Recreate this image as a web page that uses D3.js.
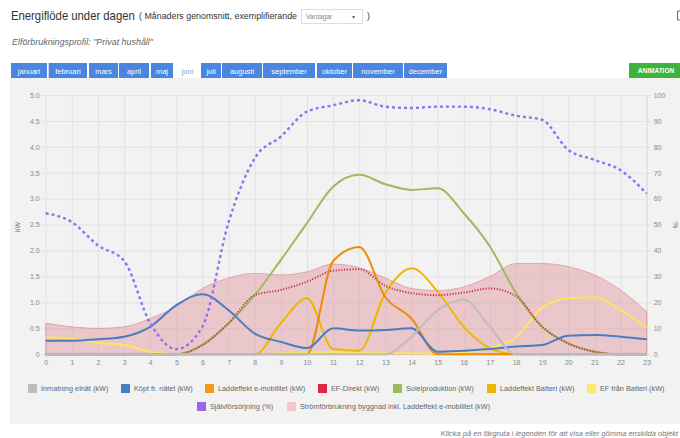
<!DOCTYPE html>
<html>
<head>
<meta charset="utf-8">
<script src="https://cdn.jsdelivr.net/npm/d3@7"></script>
<style>
  html, body { margin: 0; padding: 0; background: #fff; overflow: hidden; }
  svg text { font-family: "Liberation Sans", Arial, sans-serif; }
</style>
</head>
<body>
<svg id="chart" width="680" height="438"></svg>
<script>
// hours of the day
const hours = [0,1,2,3,4,5,6,7,8,9,10,11,12,13,14,15,16,17,18,19,20,21,22,23];
const months = ["januari","februari","mars","april","maj","juni","juli","augusti","september","oktober","november","december"];

// series (kW)
const inmatning  = [0,0,0,0,0,0,0,0,0,0,0,0,0,0,0.34,0.85,1.05,0.53,0,0,0,0,0,0];
const kopt       = [0.26,0.26,0.29,0.34,0.53,0.95,1.16,0.85,0.40,0.24,0.12,0.50,0.46,0.47,0.50,0.05,0.07,0.10,0.15,0.18,0.36,0.37,0.34,0.29];
const emobil     = [0,0,0,0,0,0,0,0,0,0,0,1.8,2.07,1.1,0.69,0,0,0,0,0,0,0,0,0];
const efDirekt   = [0,0,0,0,0,0,0.18,0.6,1.14,1.24,1.40,1.61,1.64,1.32,1.18,1.14,1.19,1.27,1.12,0.53,0.21,0.05,0,0];
const sol        = [0,0,0,0,0,0,0.18,0.6,1.14,1.82,2.53,3.23,3.46,3.28,3.17,3.2,2.72,2.08,1.18,0.53,0.21,0.05,0,0];
const battLadd   = [0,0,0,0,0,0,0,0,0,0.6,1.08,0.1,0.07,1.18,1.66,1.21,0.53,0.12,0,0,0,0,0,0];
const battEF     = [0.33,0.3,0.22,0.18,0.05,0,0,0,0,0.02,0.03,0.04,0.03,0.02,0.02,0.01,0.03,0.12,0.33,0.9,1.08,1.1,0.85,0.52];
const forbrukning= [0.6,0.53,0.5,0.53,0.69,0.92,1.27,1.47,1.56,1.53,1.59,1.74,1.67,1.47,1.27,1.23,1.30,1.50,1.75,1.75,1.69,1.53,1.24,0.82];
// self sufficiency (%)
const sjalv      = [54.4,51,42,36,12,2,10.7,51,75.6,84,93.6,96,98,95.5,95,95.5,95.5,94.5,92,90.4,78.8,75,71,62];

const kwTicks = [0,0.5,1,1.5,2,2.5,3,3.5,4,4.5,5];
const pctTicks = [0,10,20,30,40,50,60,70,80,90,100];

const svg = d3.select("#chart");

// header
svg.append("text").attr("transform", "translate(11,20) scale(0.87,1)").attr("font-size", 13).attr("fill", "#333")
  .text("Energiflöde under dagen");
svg.append("text").attr("x", 139).attr("y", 19).attr("font-size", 8.3).attr("fill", "#333")
  .attr("textLength", 158).attr("lengthAdjust", "spacingAndGlyphs")
  .text("( Månaders genomsnitt, exemplifierande");
svg.append("rect").attr("x", 301.5).attr("y", 9.5).attr("width", 61).attr("height", 14)
  .attr("fill", "#fff").attr("stroke", "#ddd");
svg.append("text").attr("x", 306).attr("y", 19).attr("font-size", 6.5).attr("fill", "#888").text("Vardagar");
svg.append("text").attr("x", 352).attr("y", 19).attr("font-size", 6).attr("fill", "#666").text("▾");
svg.append("text").attr("x", 367).attr("y", 19).attr("font-size", 8.5).attr("fill", "#333").text(")");
svg.append("path").attr("d", "M680,11 L677.5,11 L677.5,20 L680,20").attr("fill", "none").attr("stroke", "#666");

svg.append("text").attr("x", 12).attr("y", 45).attr("font-size", 8.5).attr("font-style", "italic")
  .attr("fill", "#666").attr("textLength", 141).attr("lengthAdjust", "spacingAndGlyphs")
  .text("Elförbrukningsprofil: \"Privat hushåll\"");

// month tabs
const tabEdges = [[11,47],[48.7,87],[89,118],[119,149],[151,173],[175,200],[201,221],[222,262],[263,315],[317,352],[353,403],[404,447]];
const tabs = svg.append("g");
months.forEach((m, i) => {
  const [a, b] = tabEdges[i];
  const active = m === "juni";
  tabs.append("rect").attr("x", a).attr("y", 63).attr("width", b - a).attr("height", 15)
    .attr("fill", active ? "#fff" : "#4a86e0");
  tabs.append("text").attr("x", (a + b) / 2).attr("y", 73.5).attr("text-anchor", "middle")
    .attr("font-size", 7.5).attr("fill", active ? "#7aa6ea" : "#fff").text(m);
});
svg.append("rect").attr("x", 629).attr("y", 63).attr("width", 51).attr("height", 15).attr("fill", "#3cb43c");
svg.append("text").attr("x", 656).attr("y", 73).attr("text-anchor", "middle").attr("font-size", 6.5)
  .attr("font-weight", "bold").attr("fill", "#fff").text("ANIMATION");

// chart panel
svg.append("rect").attr("x", 10).attr("y", 78).attr("width", 670).attr("height", 346).attr("fill", "#f2f2f2");

const x = d3.scaleLinear().domain([0, 23]).range([45.7, 646.7]);
const y = d3.scaleLinear().domain([0, 5]).range([354.3, 95]);
const yPct = d3.scaleLinear().domain([0, 100]).range([354.3, 95]);

// grid + axes
const gx = svg.append("g").attr("transform", "translate(0,354.3)")
  .call(d3.axisBottom(x).tickValues(hours).tickSize(-259.3).tickPadding(6).tickFormat(d3.format("d")));
gx.selectAll(".tick line").attr("stroke", "#e2e2e2").attr("y2", 4).attr("y1", -259.3);
const gy = svg.append("g").attr("transform", "translate(45.7,0)")
  .call(d3.axisLeft(y).tickValues(kwTicks).tickSize(-601).tickPadding(6)
    .tickFormat(d => d === 0 ? "0" : d3.format(".1f")(d)));
gy.selectAll(".tick line").attr("stroke", "#e2e2e2").attr("x1", -4);
const gp = svg.append("g").attr("transform", "translate(646.7,0)")
  .call(d3.axisRight(yPct).tickValues(pctTicks).tickSize(4).tickPadding(3));
gp.selectAll(".tick line").attr("stroke", "#e2e2e2");
[gx, gy, gp].forEach(g => {
  g.select(".domain").attr("stroke", "#dcdcdc");
  g.selectAll(".tick text").attr("fill", "#888").attr("font-size", 7)
    .attr("font-family", "Liberation Sans, Arial, sans-serif");
});
gx.select(".domain").remove();
gy.select(".domain").remove();

svg.append("text").attr("transform", "translate(20,227) rotate(-90)").attr("text-anchor", "middle")
  .attr("font-size", 7).attr("fill", "#777").text("kW");
svg.append("text").attr("transform", "translate(673,225) rotate(90)").attr("text-anchor", "middle")
  .attr("font-size", 7).attr("fill", "#777").text("%");

// consumption area (bottom layer)
const area = d3.area().x((d, i) => x(hours[i])).y0(y(0)).y1(d => y(d)).curve(d3.curveMonotoneX);
svg.append("path").datum(forbrukning).attr("d", area)
  .attr("fill", "rgba(225,140,150,0.42)").attr("stroke", "rgba(215,130,140,0.6)").attr("stroke-width", 1);

const line = d3.line().x((d, i) => x(hours[i])).y(d => y(d)).curve(d3.curveMonotoneX);
const pctLine = d3.line().x((d, i) => x(hours[i])).y(d => yPct(d)).curve(d3.curveMonotoneX);

// drawn back to front: last legend entry lowest
const series = [
  { data: battEF, color: "#ffe45c", w: 2 },
  { data: battLadd, color: "#ecb800", w: 2 },
  { data: sol, color: "#9dbb5c", w: 2 },
  { data: efDirekt, color: "#cc3344", w: 2, dash: "1.2,1.6" },
  { data: emobil, color: "#ee8c0a", w: 2 },
  { data: kopt, color: "#4a7cc0", w: 2 },
  { data: inmatning, color: "#bdbdbd", w: 2 }
];
series.forEach(s => {
  svg.append("path").datum(s.data).attr("d", line).attr("fill", "none")
    .attr("stroke", s.color).attr("stroke-width", s.w)
    .attr("stroke-dasharray", s.dash || null);
});

svg.append("path").datum(sjalv).attr("d", pctLine).attr("fill", "none")
  .attr("stroke", "#9370ee").attr("stroke-width", 2.4).attr("stroke-dasharray", "3,3");

// legend
const legendRow1 = [
  { label: "Inmatning elnät (kW)", color: "#bdbdbd", x: 28 },
  { label: "Köpt fr. nätet (kW)", color: "#4a7cc0", x: 121 },
  { label: "Laddeffekt e-mobilitet (kW)", color: "#f39a12", x: 205 },
  { label: "EF-Direkt (kW)", color: "#e0283c", x: 318 },
  { label: "Solelproduktion (kW)", color: "#9dbb5c", x: 393 },
  { label: "Laddeffekt Batteri (kW)", color: "#ecb800", x: 487 },
  { label: "EF från Batteri (kW)", color: "#ffe870", x: 587 }
];
const legendRow2 = [
  { label: "Självförsörjning (%)", color: "#9966ee", x: 197 },
  { label: "Strömförbrukning byggnad inkl. Laddeffekt e-mobilitet (kW)", color: "#f0c8cc", x: 287 }
];
const lg = svg.append("g");
[[legendRow1, 384], [legendRow2, 402]].forEach(([row, yy]) => {
  row.forEach(it => {
    lg.append("rect").attr("x", it.x).attr("y", yy).attr("width", 9).attr("height", 9).attr("fill", it.color);
    lg.append("text").attr("x", it.x + 13).attr("y", yy + 7).attr("font-size", 7.3).attr("fill", "#666").text(it.label);
  });
});

svg.append("text").attr("x", 678).attr("y", 436).attr("text-anchor", "end").attr("font-size", 7.5)
  .attr("font-style", "italic").attr("fill", "#777")
  .text("Klicka på en färgruta i legenden för att visa eller gömma enskilda objekt");
</script>
</body>
</html>
